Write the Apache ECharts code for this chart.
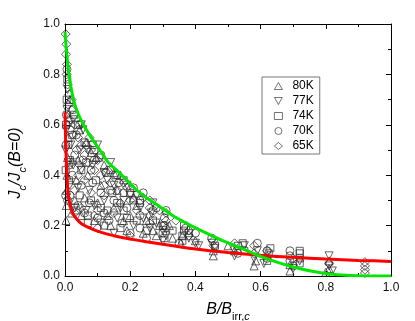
<!DOCTYPE html>
<html>
<head>
<meta charset="utf-8">
<script src="https://cdn.jsdelivr.net/npm/echarts@6/dist/echarts.min.js"></script>
<style>
html, body { margin: 0; padding: 0; background: #fff; }
#chart { width: 415px; height: 321px; }
</style>
</head>
<body>
<div id="chart"></div>
<script>
// tick labels
var xTicks = ['0.0', '0.2', '0.4', '0.6', '0.8', '1.0'];
var yTicks = ['0.0', '0.2', '0.4', '0.6', '0.8', '1.0'];

// measured points [B/Birr, Jc/Jc0]
var s80K = [[0.003,0.22],[0.004,0.28],[0.005,0.34],[0.006,0.40],[0.008,0.47],[0.01,0.55],[0.012,0.63],[0.015,0.70],[0.02,0.25],[0.03,0.30],[0.035,0.38],[0.04,0.46],[0.05,0.24],[0.06,0.31],[0.07,0.40],[0.08,0.49],[0.09,0.22],[0.1,0.29],[0.11,0.36],[0.12,0.44],[0.14,0.20],[0.15,0.27],[0.16,0.34],[0.17,0.40],[0.19,0.18],[0.2,0.24],[0.21,0.31],[0.24,0.17],[0.25,0.22],[0.28,0.16],[0.29,0.2],[0.33,0.15],[0.355,0.13],[0.36,0.16],[0.455,0.08],[0.455,0.1],[0.52,0.1],[0.58,0.04],[0.585,0.06],[0.62,0.08],[0.69,0.02],[0.69,0.045],[0.8,0.015],[0.81,0.03],[0.81,0.06],
    [0.045,0.58],[0.065,0.53],[0.095,0.47],[0.13,0.24],[0.18,0.22],[0.22,0.28],[0.27,0.18],[0.32,0.2],[0.4,0.14],[0.5,0.12],[0.15,0.41]];
var s77K = [[0.002,0.5],[0.004,0.58],[0.006,0.66],[0.008,0.74],[0.01,0.45],[0.015,0.36],[0.018,0.52],[0.025,0.62],[0.03,0.27],[0.04,0.35],[0.045,0.5],[0.055,0.58],[0.065,0.26],[0.075,0.34],[0.085,0.44],[0.1,0.52],[0.11,0.21],[0.12,0.3],[0.13,0.38],[0.14,0.45],[0.16,0.23],[0.18,0.3],[0.19,0.36],[0.21,0.2],[0.23,0.27],[0.26,0.19],[0.265,0.25],[0.27,0.29],[0.3,0.18],[0.31,0.16],[0.38,0.15],[0.4,0.13],[0.41,0.12],[0.45,0.13],[0.46,0.11],[0.52,0.08],[0.55,0.12],[0.58,0.07],[0.59,0.1],[0.61,0.05],[0.7,0.03],[0.72,0.06],[0.81,0.04],[0.81,0.08],[0.82,0.02],
    [0.025,0.44],[0.05,0.42],[0.07,0.5],[0.09,0.28],[0.12,0.41],[0.15,0.36],[0.17,0.27],[0.2,0.32],[0.24,0.23],[0.28,0.21],[0.05,0.6],[0.22,0.32],[0.15,0.17],[0.3,0.14]];
var s74K = [[0.002,0.42],[0.003,0.6],[0.005,0.7],[0.007,0.78],[0.012,0.38],[0.015,0.46],[0.022,0.56],[0.028,0.64],[0.035,0.26],[0.045,0.32],[0.05,0.42],[0.06,0.53],[0.07,0.24],[0.08,0.3],[0.095,0.38],[0.105,0.47],[0.12,0.2],[0.13,0.26],[0.145,0.33],[0.155,0.4],[0.17,0.19],[0.18,0.26],[0.2,0.33],[0.22,0.22],[0.23,0.29],[0.25,0.18],[0.27,0.22],[0.3,0.2],[0.305,0.15],[0.36,0.14],[0.36,0.16],[0.365,0.18],[0.365,0.2],[0.38,0.17],[0.46,0.12],[0.53,0.12],[0.545,0.13],[0.55,0.1],[0.62,0.06],[0.625,0.09],[0.63,0.11],[0.72,0.05],[0.72,0.07],[0.72,0.09],[0.72,0.1],
    [0.01,0.52],[0.04,0.6],[0.065,0.45],[0.085,0.52],[0.11,0.27],[0.14,0.42],[0.16,0.29],[0.19,0.23],[0.21,0.3],[0.33,0.18],[0.09,0.5],[0.18,0.38],[0.07,0.21]];
var s70K = [[0.002,0.32],[0.003,0.52],[0.004,0.64],[0.006,0.82],[0.008,0.3],[0.012,0.44],[0.016,0.58],[0.022,0.4],[0.03,0.48],[0.035,0.56],[0.04,0.28],[0.05,0.36],[0.055,0.46],[0.065,0.52],[0.075,0.29],[0.085,0.37],[0.09,0.46],[0.1,0.23],[0.11,0.33],[0.125,0.41],[0.135,0.22],[0.15,0.3],[0.165,0.37],[0.175,0.21],[0.19,0.27],[0.2,0.17],[0.21,0.35],[0.23,0.19],[0.23,0.24],[0.23,0.3],[0.24,0.33],[0.3,0.17],[0.305,0.2],[0.305,0.23],[0.31,0.26],[0.37,0.19],[0.45,0.15],[0.53,0.09],[0.59,0.13],[0.62,0.1],[0.62,0.07],[0.69,0.06],[0.69,0.08],[0.69,0.1],[0.7,0.04],
    [0.015,0.32],[0.025,0.66],[0.045,0.6],[0.06,0.25],[0.08,0.42],[0.12,0.25],[0.14,0.34],[0.16,0.4],[0.18,0.33],[0.27,0.26],[0.11,0.48],[0.28,0.27],[0.4,0.17],[0.25,0.15],[0.35,0.13]];
var s65K = [[0.002,0.96],[0.004,0.92],[0.003,0.88],[0.006,0.84],[0.005,0.8],[0.008,0.76],[0.012,0.72],[0.01,0.68],[0.02,0.66],[0.015,0.62],[0.03,0.6],[0.025,0.56],[0.04,0.55],[0.05,0.52],[0.035,0.5],[0.06,0.48],[0.08,0.5],[0.07,0.45],[0.045,0.44],[0.09,0.42],[0.1,0.46],[0.11,0.4],[0.06,0.38],[0.13,0.42],[0.14,0.37],[0.03,0.34],[0.08,0.33],[0.12,0.32],[0.16,0.34],[0.18,0.37],[0.2,0.3],[0.05,0.27],[0.1,0.26],[0.15,0.25],[0.22,0.26],[0.26,0.3],[0.26,0.27],[0.26,0.24],[0.26,0.21],[0.31,0.25],[0.31,0.22],[0.31,0.19],[0.38,0.18],[0.38,0.16],[0.455,0.14],[0.455,0.12],[0.52,0.13],[0.52,0.11],[0.58,0.12],[0.58,0.09],[0.62,0.1],[0.7,0.07],[0.81,0.05],[0.92,0.055],[0.92,0.04],[0.92,0.025],[0.92,0.012],
    [0.007,0.6],[0.02,0.45],[0.04,0.4],[0.075,0.55],[0.09,0.24],[0.12,0.36],[0.17,0.29],[0.19,0.35],[0.24,0.31],[0.29,0.26],[0.02,0.7],[0.34,0.22],[0.03,0.25],[0.1,0.19],[0.2,0.16]];

// fitted curves
var redFit = [[0,0.65],[0.002,0.53],[0.005,0.43],[0.01,0.32],[0.02,0.262],[0.03,0.236],[0.05,0.208],[0.07,0.194],[0.1,0.178],[0.13,0.166],[0.16,0.157],[0.2,0.147],[0.25,0.136],[0.3,0.126],[0.4,0.107],[0.5,0.093],[0.6,0.082],[0.7,0.074],[0.8,0.067],[0.9,0.062],[1.0,0.058]];
var greenFit = [[0,0.97],[0.004,0.9],[0.012,0.8],[0.026,0.7],[0.04,0.645],[0.061,0.59],[0.08,0.55],[0.107,0.5],[0.13,0.455],[0.158,0.42],[0.19,0.38],[0.22,0.341],[0.25,0.31],[0.291,0.275],[0.33,0.24],[0.373,0.209],[0.41,0.185],[0.445,0.163],[0.48,0.142],[0.515,0.123],[0.56,0.1],[0.6,0.078],[0.65,0.055],[0.7,0.036],[0.75,0.021],[0.8,0.01],[0.85,0.004],[0.9,0.001],[1.0,0]];

var font = 'Liberation Sans, Arial, sans-serif';
var mark = { color: 'rgba(0,0,0,0)', borderColor: '#262626', borderWidth: 0.9 };

function scatter(name, data, symbol, size) {
    return { name: name, type: 'scatter', data: data, symbol: symbol, symbolSize: size, itemStyle: mark, z: 2 };
}
function fit(data, color) {
    return { type: 'line', data: data, showSymbol: false, smooth: 0.2, lineStyle: { color: color, width: 3 }, z: 5, silent: true };
}

var tickCommon = {
    axisLine: { show: true, onZero: false, lineStyle: { color: '#000', width: 1 } },
    axisTick: { show: true, inside: true, length: 5, lineStyle: { color: '#000' } },
    minorTick: { show: true, splitNumber: 2, length: 3, lineStyle: { color: '#000' } },
    splitLine: { show: false }
};

var chart = echarts.init(document.getElementById('chart'));
chart.setOption({
    animation: false,
    backgroundColor: '#fff',
    grid: { left: 65, right: 24, top: 24, bottom: 45, containLabel: false, outerBoundsMode: 'none' },
    legend: {
        data: ['80K', '77K', '74K', '70K', '65K'],
        orient: 'vertical',
        left: 262,
        top: 77,
        padding: [3, 6, 2, 12],
        itemGap: 3,
        itemWidth: 8,
        itemHeight: 7,
        borderColor: '#777',
        borderWidth: 1,
        itemStyle: { borderWidth: 0.8 },
        textStyle: { fontSize: 12, lineHeight: 11, color: '#000', fontFamily: font, padding: [0, 0, 0, 5] }
    },
    xAxis: [
        Object.assign({
            type: 'value', min: 0, max: 1, interval: 0.2,
            axisLabel: { fontSize: 12, color: '#111', fontFamily: font, margin: 6, formatter: function (v) { return xTicks[Math.round(v / 0.2)]; } },
            name: '{i|B/B}{s|irr,}{si|c}',
            nameLocation: 'middle',
            nameGap: 22,
            nameTextStyle: {
                rich: {
                    i: { fontSize: 16, fontStyle: 'italic', fontFamily: font, color: '#000', lineHeight: 24, verticalAlign: 'middle' },
                    s: { fontSize: 11, fontFamily: font, color: '#000', lineHeight: 24, verticalAlign: 'bottom' },
                    si: { fontSize: 11, fontStyle: 'italic', fontFamily: font, color: '#000', lineHeight: 24, verticalAlign: 'bottom' }
                }
            }
        }, tickCommon),
        Object.assign({ type: 'value', position: 'top', min: 0, max: 1, interval: 0.2, axisLabel: { show: false } }, tickCommon)
    ],
    yAxis: [
        Object.assign({
            type: 'value', min: 0, max: 1, interval: 0.2,
            axisLabel: { fontSize: 12, color: '#111', fontFamily: font, margin: 5, formatter: function (v) { return yTicks[Math.round(v / 0.2)]; } },
            name: '{i|J}{s|c}{i|/J}{s|c}{i|(B=0)}',
            nameLocation: 'middle',
            nameGap: 37,
            nameTextStyle: {
                padding: [0, 26, 0, 0],
                rich: {
                    i: { fontSize: 16, fontStyle: 'italic', fontFamily: font, color: '#000', lineHeight: 24, verticalAlign: 'middle' },
                    s: { fontSize: 11, fontStyle: 'italic', fontFamily: font, color: '#000', lineHeight: 24, verticalAlign: 'bottom' }
                }
            }
        }, tickCommon),
        Object.assign({ type: 'value', position: 'right', min: 0, max: 1, interval: 0.2, axisLabel: { show: false } }, tickCommon)
    ],
    series: [
        scatter('80K', s80K, 'triangle', 8),
        scatter('77K', s77K, 'path://M0,0L10,0L5,9Z', 8),
        scatter('74K', s74K, 'rect', 7),
        scatter('70K', s70K, 'circle', 8),
        scatter('65K', s65K, 'diamond', 9),
        fit(redFit, '#ff0000'),
        fit(greenFit, '#00e600')
    ]
});
</script>
</body>
</html>
